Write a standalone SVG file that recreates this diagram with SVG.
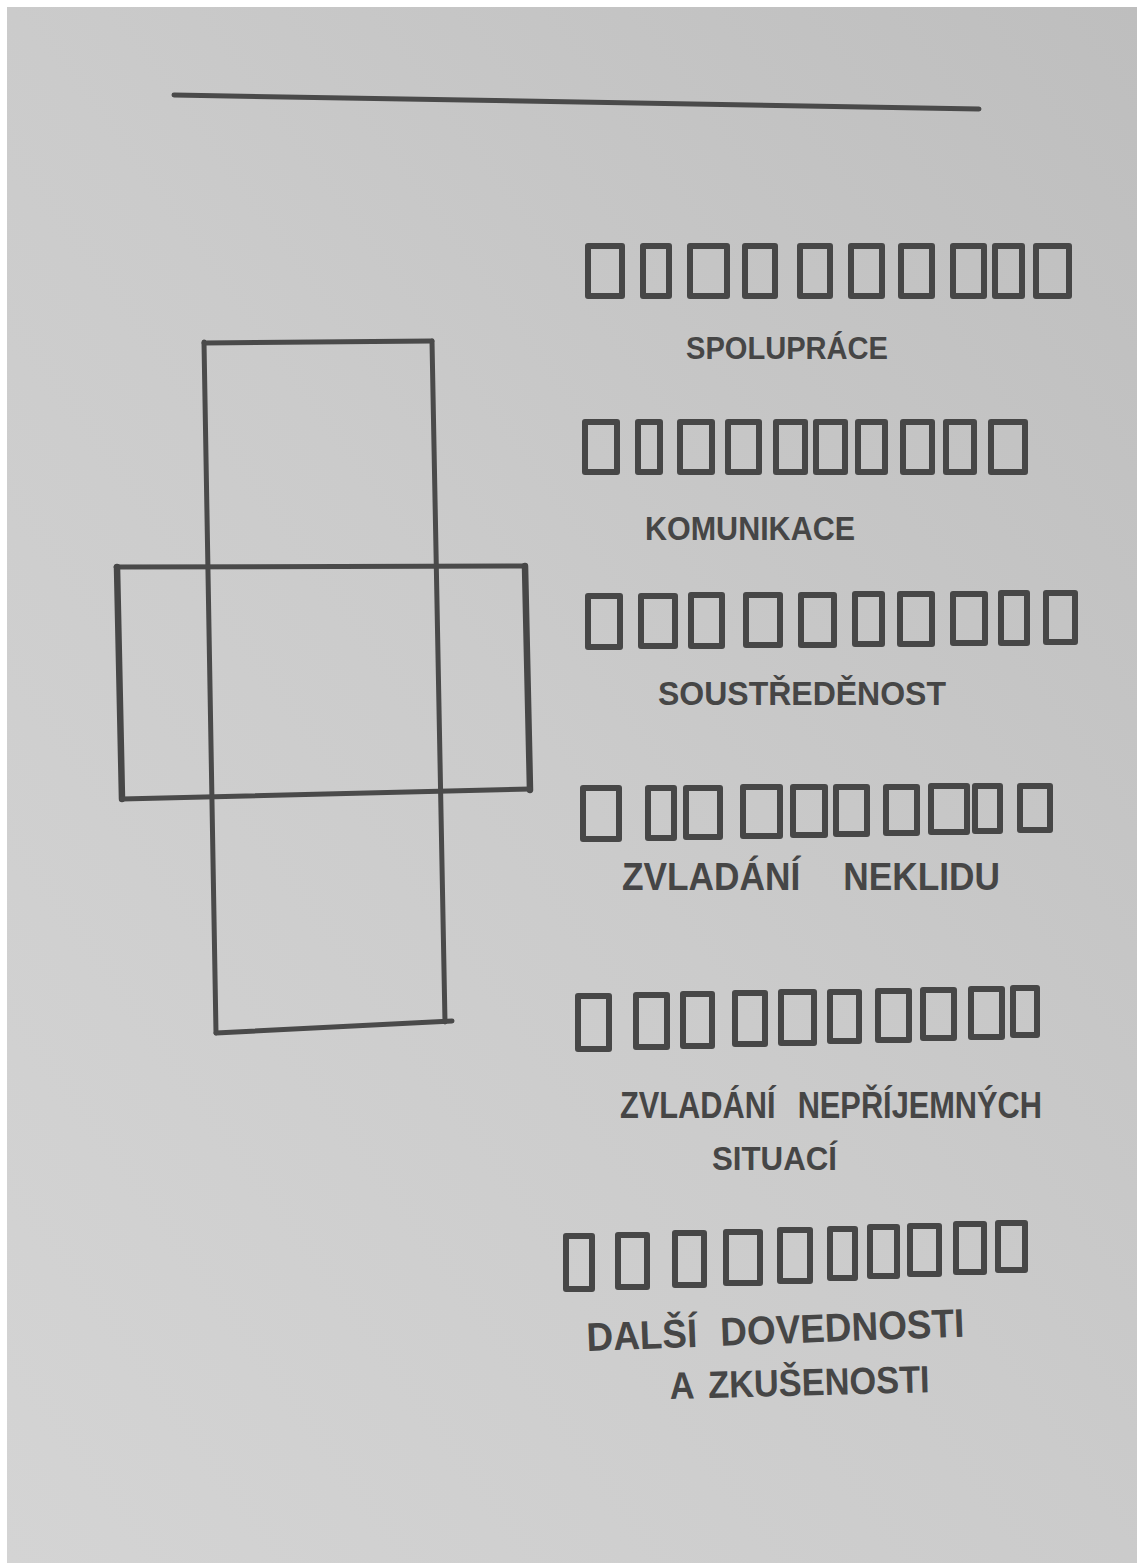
<svg xmlns="http://www.w3.org/2000/svg" width="1137" height="1565" viewBox="0 0 1137 1565">
  <defs>
    <linearGradient id="paper" x1="1" y1="0" x2="0" y2="1">
      <stop offset="0" stop-color="#bebebe"/>
      <stop offset="0.5" stop-color="#cbcbcb"/>
      <stop offset="1" stop-color="#d4d4d4"/>
    </linearGradient>
  </defs>
  <style>
    .box { fill: none; stroke: #474747; stroke-width: 6; stroke-linejoin: round; }
    .net { fill: none; stroke: #4a4a4a; stroke-width: 5; stroke-linecap: round; }
    .net-thick { fill: none; stroke: #474747; stroke-width: 6.5; stroke-linecap: round; }
    .lbl { font-family: "Liberation Sans", "DejaVu Sans", sans-serif; font-weight: bold; fill: #464646; }
  </style>
  <rect x="0" y="0" width="1137" height="1565" fill="#ffffff"/>
  <rect x="7" y="7" width="1130" height="1556" fill="url(#paper)"/>

  <g id="top-line">
    <line class="net" x1="174" y1="95" x2="979" y2="109"/>
  </g>

  <g id="cross-net">
    <line class="net" x1="204" y1="342" x2="216" y2="1033"/>
    <line class="net" x1="432" y1="341" x2="445" y2="1022"/>
    <line class="net" x1="204" y1="343" x2="432" y2="341"/>
    <line class="net" x1="116" y1="567" x2="525" y2="566"/>
    <line class="net-thick" x1="117" y1="567" x2="122" y2="799"/>
    <line class="net-thick" x1="525" y1="566" x2="530" y2="790"/>
    <line class="net" x1="122" y1="799" x2="530" y2="789"/>
    <line class="net" x1="216" y1="1033" x2="452" y2="1021"/>
  </g>

  <g id="connectors"></g>

  <g id="row-spoluprace">
    <rect class="box" x="588" y="246" width="34" height="50"/>
    <rect class="box" x="643" y="246" width="26" height="50"/>
    <rect class="box" x="690" y="246" width="37" height="50"/>
    <rect class="box" x="745" y="246" width="30" height="50"/>
    <rect class="box" x="800" y="246" width="30" height="50"/>
    <rect class="box" x="851" y="246" width="31" height="50"/>
    <rect class="box" x="901" y="246" width="31" height="50"/>
    <rect class="box" x="953" y="246" width="31" height="50"/>
    <rect class="box" x="995" y="246" width="27" height="50"/>
    <rect class="box" x="1036" y="246" width="33" height="50"/>
    <text class="lbl" x="686" y="359" font-size="31" textLength="202" lengthAdjust="spacingAndGlyphs">SPOLUPRÁCE</text>
  </g>

  <g id="row-komunikace">
    <rect class="box" x="585" y="422" width="32" height="50"/>
    <rect class="box" x="638" y="422" width="22" height="50"/>
    <rect class="box" x="680" y="422" width="32" height="50"/>
    <rect class="box" x="728" y="422" width="31" height="50"/>
    <rect class="box" x="776" y="422" width="29" height="50"/>
    <rect class="box" x="816" y="422" width="29" height="50"/>
    <rect class="box" x="858" y="422" width="27" height="50"/>
    <rect class="box" x="903" y="422" width="29" height="50"/>
    <rect class="box" x="946" y="422" width="28" height="50"/>
    <rect class="box" x="991" y="422" width="34" height="50"/>
    <text class="lbl" x="645" y="540" font-size="34" textLength="210" lengthAdjust="spacingAndGlyphs">KOMUNIKACE</text>
  </g>

  <g id="row-soustredenost">
    <rect class="box" x="588" y="596" width="32" height="51"/>
    <rect class="box" x="641" y="596" width="34" height="50"/>
    <rect class="box" x="691" y="595" width="31" height="51"/>
    <rect class="box" x="746" y="595" width="34" height="50"/>
    <rect class="box" x="801" y="595" width="33" height="50"/>
    <rect class="box" x="855" y="594" width="27" height="50"/>
    <rect class="box" x="900" y="594" width="32" height="50"/>
    <rect class="box" x="953" y="594" width="32" height="49"/>
    <rect class="box" x="1001" y="593" width="26" height="50"/>
    <rect class="box" x="1046" y="593" width="29" height="49"/>
    <text class="lbl" x="658" y="705" font-size="33" textLength="288" lengthAdjust="spacingAndGlyphs">SOUSTŘEDĚNOST</text>
  </g>

  <g id="row-zvladani-neklidu">
    <rect class="box" x="583" y="788" width="36" height="51"/>
    <rect class="box" x="648" y="788" width="26" height="50"/>
    <rect class="box" x="686" y="788" width="34" height="49"/>
    <rect class="box" x="743" y="787" width="37" height="49"/>
    <rect class="box" x="793" y="787" width="32" height="48"/>
    <rect class="box" x="836" y="787" width="31" height="47"/>
    <rect class="box" x="886" y="787" width="31" height="46"/>
    <rect class="box" x="931" y="786" width="36" height="46"/>
    <rect class="box" x="975" y="786" width="25" height="45"/>
    <rect class="box" x="1020" y="786" width="30" height="44"/>
    <text class="lbl" x="622" y="890" font-size="38" word-spacing="36" textLength="378" lengthAdjust="spacingAndGlyphs">ZVLADÁNÍ NEKLIDU</text>
  </g>

  <g id="row-zvladani-situaci">
    <rect class="box" x="578" y="996" width="31" height="53"/>
    <rect class="box" x="636" y="995" width="31" height="52"/>
    <rect class="box" x="683" y="994" width="29" height="52"/>
    <rect class="box" x="735" y="993" width="30" height="51"/>
    <rect class="box" x="781" y="992" width="33" height="51"/>
    <rect class="box" x="830" y="992" width="29" height="49"/>
    <rect class="box" x="878" y="991" width="31" height="49"/>
    <rect class="box" x="923" y="990" width="31" height="48"/>
    <rect class="box" x="971" y="989" width="31" height="48"/>
    <rect class="box" x="1013" y="988" width="24" height="47"/>
    <text class="lbl" x="620" y="1118" font-size="36" word-spacing="16" textLength="422" lengthAdjust="spacingAndGlyphs">ZVLADÁNÍ NEPŘÍJEMNÝCH</text>
    <text class="lbl" x="712" y="1170" font-size="34" textLength="125" lengthAdjust="spacingAndGlyphs">SITUACÍ</text>
  </g>

  <g id="row-dalsi">
    <rect class="box" x="566" y="1236" width="26" height="53"/>
    <rect class="box" x="618" y="1235" width="29" height="52"/>
    <rect class="box" x="675" y="1233" width="29" height="52"/>
    <rect class="box" x="726" y="1232" width="34" height="51"/>
    <rect class="box" x="780" y="1230" width="30" height="51"/>
    <rect class="box" x="830" y="1229" width="25" height="49"/>
    <rect class="box" x="870" y="1227" width="27" height="49"/>
    <rect class="box" x="910" y="1226" width="29" height="48"/>
    <rect class="box" x="956" y="1224" width="28" height="48"/>
    <rect class="box" x="998" y="1223" width="27" height="47"/>
    <text class="lbl" x="587" y="1351" font-size="40" word-spacing="14" textLength="378" lengthAdjust="spacingAndGlyphs" transform="rotate(-2.2 587 1351)">DALŠÍ DOVEDNOSTI</text>
    <text class="lbl" x="670" y="1399" font-size="38" word-spacing="6" textLength="260" lengthAdjust="spacingAndGlyphs" transform="rotate(-1.5 670 1399)">A ZKUŠENOSTI</text>
  </g>
</svg>
